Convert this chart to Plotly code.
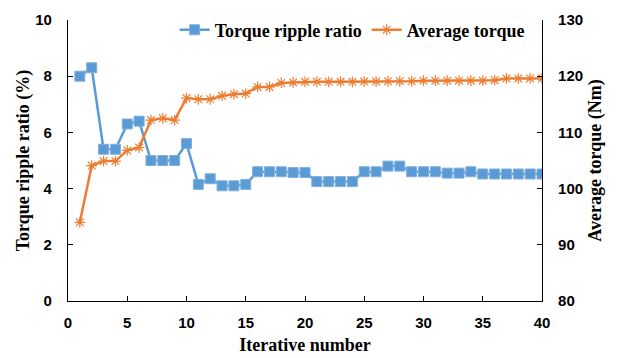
import plotly.graph_objects as go

# Iteration index and the two optimisation histories
iterations = list(range(1, 41))
ripple_ratio = [8.0, 8.3, 5.4, 5.4, 6.3, 6.4, 5.0, 5.0, 5.0, 5.6,
                4.15, 4.35, 4.1, 4.1, 4.15, 4.6, 4.6, 4.6, 4.57, 4.57,
                4.25, 4.25, 4.25, 4.25, 4.6, 4.6, 4.8, 4.8, 4.6, 4.6,
                4.6, 4.55, 4.55, 4.6, 4.52, 4.52, 4.52, 4.52, 4.52, 4.52]
avg_torque = [94.0, 104.1, 104.9, 104.9, 106.8, 107.3, 112.2, 112.5, 112.2, 116.1,
              115.9, 115.9, 116.5, 116.8, 116.9, 118.1, 118.1, 118.8, 118.9, 119.0,
              119.0, 119.0, 119.0, 119.0, 119.05, 119.05, 119.1, 119.1, 119.1, 119.2,
              119.2, 119.2, 119.2, 119.2, 119.2, 119.3, 119.6, 119.6, 119.6, 119.6]

x_ticks = [0, 5, 10, 15, 20, 25, 30, 35, 40]
left_ticks = [0, 2, 4, 6, 8, 10]
right_ticks = [80, 90, 100, 110, 120, 130]

BLUE = "#5B9BD5"
ORANGE = "#ED7D31"
tick_font = dict(family="Liberation Sans", size=15, color="#000000", weight="bold")
title_font = dict(family="Liberation Serif", size=18, color="#000000", weight="bold")

fig = go.Figure()
fig.add_trace(go.Scatter(
    x=iterations, y=ripple_ratio, name="Torque ripple ratio",
    mode="lines+markers",
    line=dict(color=BLUE, width=2.5),
    marker=dict(symbol="square", size=10, color=BLUE,
                line=dict(color="#7FB0E0", width=1)),
    yaxis="y",
))
fig.add_trace(go.Scatter(
    x=iterations, y=avg_torque, name="Average torque",
    mode="lines+markers",
    line=dict(color=ORANGE, width=2.5),
    marker=dict(symbol="asterisk-open", size=9,
                line=dict(color=ORANGE, width=1.2)),
    yaxis="y2",
))

axis_common = dict(showgrid=False, zeroline=False, showline=True,
                   linecolor="#000000", linewidth=1.2,
                   ticks="inside", ticklen=5, tickcolor="#000000",
                   tickfont=tick_font, automargin=False)

fig.update_layout(
    width=621, height=358,
    margin=dict(l=68, r=79, t=15, b=57),
    paper_bgcolor="white", plot_bgcolor="white",
    showlegend=True,
    legend=dict(orientation="h", x=0.225, y=1.03, xanchor="left", yanchor="top",
                font=dict(family="Liberation Serif", size=18, color="#000000", weight="bold"),
                bgcolor="rgba(0,0,0,0)", itemwidth=30, tracegroupgap=0),
    xaxis=dict(range=[0, 40], tickvals=x_ticks, ticklabelstandoff=8, **axis_common,
               title=dict(text="Iterative number", font=title_font, standoff=8)),
    yaxis=dict(range=[0, 10], tickvals=left_ticks, ticklabelstandoff=12, **axis_common,
               title=dict(text="Torque ripple ratio (%)", font=title_font, standoff=0)),
    yaxis2=dict(range=[80, 130], tickvals=right_ticks, overlaying="y", side="right",
                ticklabelstandoff=12, **axis_common,
                title=dict(text="Average torque (Nm)", font=title_font, standoff=6)),
)

fig.write_html("out.html")
